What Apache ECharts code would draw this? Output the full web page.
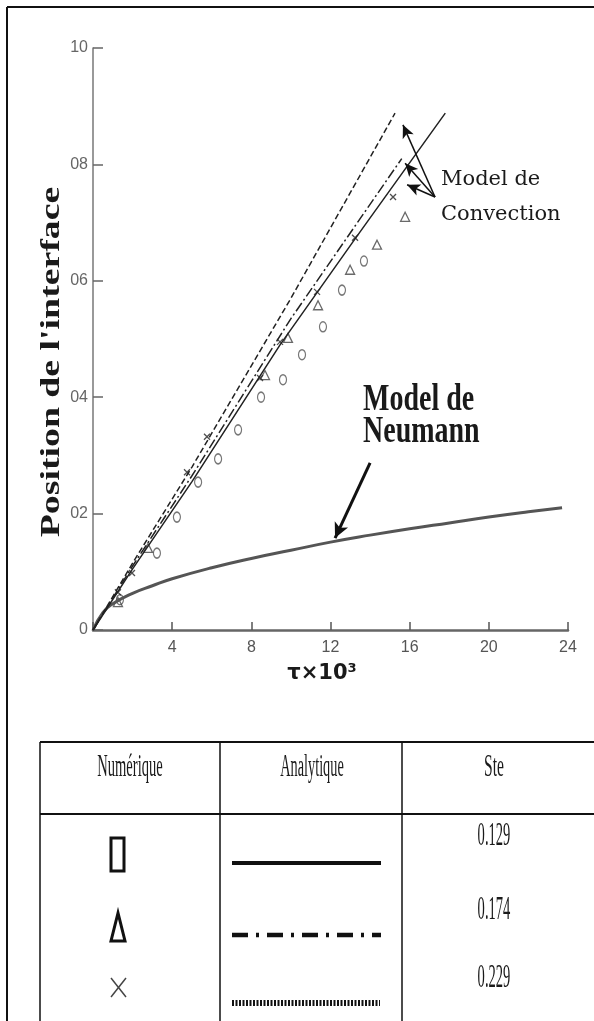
<!DOCTYPE html>
<html>
<head>
<meta charset="utf-8">
<script src="https://cdn.jsdelivr.net/npm/echarts@6/dist/echarts.min.js"></script>
<style>
html, body { margin: 0; padding: 0; background: #fff; }
#chart { width: 594px; height: 1021px; }
</style>
</head>
<body>
<div id="chart"></div>
<script>
var yTickLabels = ['0', '02', '04', '06', '08', '10'];

// modele de Neumann
var neumannTau = [0, 0.5, 1, 2, 3, 4, 6, 8, 10, 12, 14, 16, 18, 20, 22, 23.7];
var neumannPos = [0, 0.03, 0.045, 0.063, 0.076, 0.088, 0.107, 0.123, 0.137, 0.151, 0.163, 0.174, 0.184, 0.194, 0.203, 0.21];

// modele de convection (analytique)
var conv229Tau = [0, 2, 5, 10, 15.26];
var conv229Pos = [0, 0.115, 0.28, 0.57, 0.888];
var conv174Tau = [0, 2, 5, 10, 15.6];
var conv174Pos = [0, 0.11, 0.265, 0.535, 0.81];
var conv129Tau = [0, 2, 5, 9.45, 13.24, 17.8];
var conv129Pos = [0, 0.105, 0.255, 0.49, 0.672, 0.888];

// numerique
var circTau = [1.36, 3.23, 4.24, 5.31, 6.32, 7.33, 8.49, 9.60, 10.56, 11.62, 12.58, 13.69];
var circPos = [0.052, 0.132, 0.194, 0.254, 0.294, 0.344, 0.400, 0.430, 0.473, 0.521, 0.584, 0.634];
var triTau = [1.26, 2.78, 8.69, 9.85, 11.37, 12.99, 14.35, 15.77];
var triPos = [0.048, 0.141, 0.438, 0.502, 0.558, 0.619, 0.662, 0.710];
var crossTau = [1.26, 1.97, 4.75, 5.76, 8.44, 9.45, 11.32, 13.24, 15.16];
var crossPos = [0.065, 0.098, 0.271, 0.332, 0.433, 0.495, 0.581, 0.674, 0.744];

// fleches
var convArrowFrom = [17.28, 0.744];
var convArrowTips = [[15.66, 0.868], [15.77, 0.802], [15.87, 0.765]];
var neumannArrow = [[14.0, 0.287], [12.23, 0.158]];

// tableau
var tableHead = ['Numérique', 'Analytique', 'Ste'];
var steValues = ['0.129', '0.174', '0.229'];

function zip(xs, ys) {
    return xs.map(function (x, i) { return [x, ys[i]]; });
}

function txt(x, y, str, size, font, weight, sx, sy, rot) {
    return {
        type: 'text', x: x, y: y, rotation: rot || 0,
        scaleX: sx || 1, scaleY: sy || 1,
        style: {
            text: str, fontSize: size, fontFamily: font, fontWeight: weight || 'normal',
            fill: '#1a1a1a', textAlign: 'center', textVerticalAlign: 'middle'
        },
        silent: true
    };
}

function seg(x1, y1, x2, y2, w, dash, color) {
    return {
        type: 'line', shape: { x1: x1, y1: y1, x2: x2, y2: y2 },
        style: { stroke: color || '#111', lineWidth: w, lineDash: dash || null },
        silent: true
    };
}

var graphics = [
    // cadre
    seg(7, 7, 594, 7, 2),
    seg(7, 7, 7, 1021, 2),
    // titres
    txt(52, 362, "Position de l'interface", 28, 'Liberation Serif', 'bold', 1.35, 1, Math.PI / 2),
    txt(322, 674, 'τ×10³', 21, 'DejaVu Sans', 'bold'),
    { type: 'text', x: 441, y: 162, silent: true,
      style: { text: 'Model de\nConvection', fontSize: 21, lineHeight: 35, fontFamily: 'DejaVu Serif', fill: '#1a1a1a' } },
    { type: 'text', x: 363, y: 384, scaleY: 1.35, silent: true,
      style: { text: 'Model de\nNeumann', fontSize: 28, lineHeight: 24, fontFamily: 'Liberation Serif', fontWeight: 'bold', fill: '#1a1a1a' } },
    // tableau
    seg(40, 742, 594, 742, 2),
    seg(40, 814, 594, 814, 2),
    seg(40, 742, 40, 1021, 1.5),
    seg(220, 742, 220, 1021, 1.5),
    seg(402, 742, 402, 1021, 1.5),
    txt(130, 767, tableHead[0], 26, 'Liberation Serif', 'normal', 0.56, 1.25),
    txt(312, 767, tableHead[1], 26, 'Liberation Serif', 'normal', 0.55, 1.25),
    txt(494, 767, tableHead[2], 26, 'Liberation Serif', 'normal', 0.6, 1.25),
    txt(494, 836, steValues[0], 26, 'Liberation Serif', 'normal', 0.56, 1.3),
    txt(494, 910, steValues[1], 26, 'Liberation Serif', 'normal', 0.56, 1.3),
    txt(494, 978, steValues[2], 26, 'Liberation Serif', 'normal', 0.56, 1.3),
    { type: 'rect', shape: { x: 111, y: 838, width: 13, height: 33 }, silent: true,
      style: { fill: 'none', stroke: '#111', lineWidth: 3 } },
    { type: 'polygon', shape: { points: [[118, 913], [111, 941], [125, 941]] }, silent: true,
      style: { fill: 'none', stroke: '#111', lineWidth: 3 } },
    seg(111, 978, 126, 997, 1.5, null, '#444'),
    seg(126, 978, 111, 997, 1.5, null, '#444'),
    seg(232, 863, 381, 863, 4),
    seg(232, 935, 381, 935, 4.5, [16, 8, 3, 8]),
    seg(232, 1003, 380, 1003, 6, [2, 1.5])
];

var option = {
    animation: false,
    backgroundColor: '#fff',
    grid: { left: 93, top: 48, width: 475, height: 582 },
    xAxis: {
        type: 'value', min: 0, max: 24, interval: 4,
        axisLine: { lineStyle: { color: '#666', width: 2.5 } },
        axisTick: { inside: true, length: 8, lineStyle: { color: '#555', width: 1.5 } },
        axisLabel: {
            color: '#555', fontSize: 16, fontFamily: 'Liberation Sans', margin: 10,
            formatter: function (v) { return v === 0 ? '' : String(v); }
        },
        splitLine: { show: false }
    },
    yAxis: {
        type: 'value', min: 0, max: 1, interval: 0.2,
        axisLine: { show: true, lineStyle: { color: '#777', width: 1.5 } },
        axisTick: { show: true, inside: true, length: 10, lineStyle: { color: '#666', width: 1.5 } },
        axisLabel: {
            color: '#666', fontSize: 16, fontFamily: 'Liberation Sans', margin: 5,
            formatter: function (v) { return yTickLabels[Math.round(v / 0.2)]; }
        },
        splitLine: { show: false }
    },
    series: [
        {
            name: 'Neumann', type: 'line', data: zip(neumannTau, neumannPos),
            smooth: true, showSymbol: false,
            lineStyle: { color: '#555', width: 3 },
            markLine: {
                silent: true, symbol: ['none', 'arrow'], symbolSize: [11, 15],
                label: { show: false },
                lineStyle: { color: '#111', width: 3, type: 'solid' },
                data: [[{ coord: neumannArrow[0] }, { coord: neumannArrow[1] }]]
            }
        },
        {
            name: 'Ste 0.229', type: 'line', data: zip(conv229Tau, conv229Pos),
            showSymbol: false, lineStyle: { color: '#222', width: 1.5, type: [6, 3] }
        },
        {
            name: 'Ste 0.174', type: 'line', data: zip(conv174Tau, conv174Pos),
            showSymbol: false, lineStyle: { color: '#222', width: 1.5, type: [10, 3, 2, 3] }
        },
        {
            name: 'Ste 0.129', type: 'line', data: zip(conv129Tau, conv129Pos),
            showSymbol: false, lineStyle: { color: '#222', width: 1.5 },
            markLine: {
                silent: true, symbol: ['none', 'arrow'], symbolSize: [9, 13],
                label: { show: false },
                lineStyle: { color: '#111', width: 1.5, type: 'solid' },
                data: convArrowTips.map(function (t) {
                    return [{ coord: convArrowFrom }, { coord: t }];
                })
            }
        },
        {
            name: 'num 0.129', type: 'scatter', data: zip(circTau, circPos),
            symbol: 'circle', symbolSize: [7, 10],
            itemStyle: { color: 'transparent', borderColor: '#555', borderWidth: 1.4 }
        },
        {
            name: 'num 0.174', type: 'scatter', data: zip(triTau, triPos),
            symbol: 'triangle', symbolSize: 9,
            itemStyle: { color: 'transparent', borderColor: '#444', borderWidth: 1.3 }
        },
        {
            name: 'num 0.229', type: 'scatter', data: zip(crossTau, crossPos),
            symbol: 'path://M0,0L10,10M10,0L0,10', symbolSize: 6,
            itemStyle: { color: 'transparent', borderColor: '#222', borderWidth: 1.3 }
        }
    ],
    graphic: graphics
};

var chart = echarts.init(document.getElementById('chart'));
chart.setOption(option);
</script>
</body>
</html>
